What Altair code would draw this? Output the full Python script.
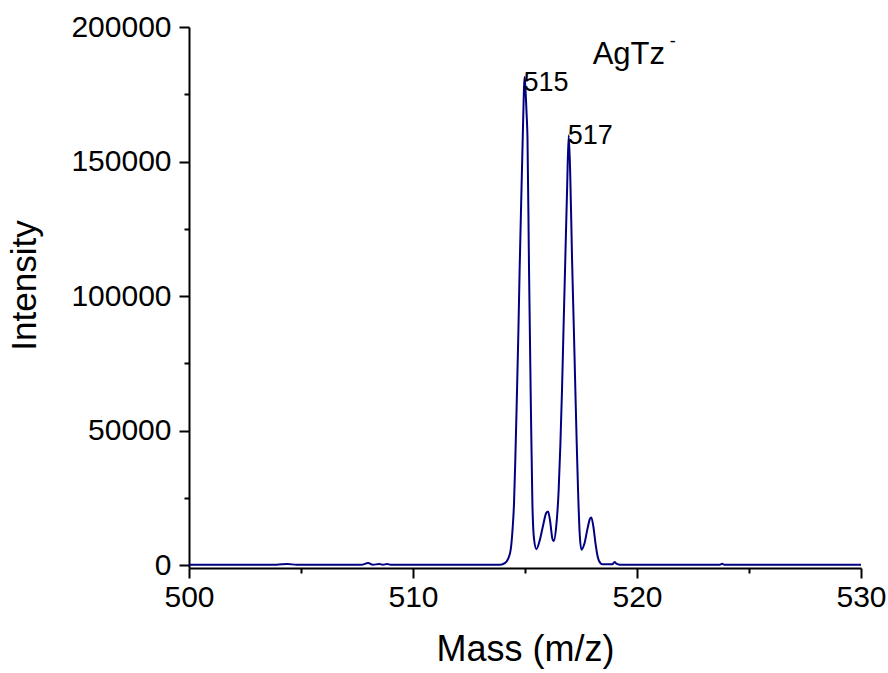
import altair as alt
import pandas as pd

# spectrum
mass = [500.0, 503.9, 504.4, 504.8, 507.7, 508.0, 508.2, 508.5, 508.65, 508.85, 509.0,
        513.9, 514.1, 514.25, 514.36, 514.45, 514.51, 514.57, 514.63, 514.70, 514.76,
        514.83, 514.90, 514.95, 514.98, 515.02, 515.07, 515.11, 515.18, 515.26, 515.33,
        515.40, 515.51, 515.65, 515.80, 515.95, 516.03, 516.12, 516.22, 516.28, 516.40,
        516.50, 516.58, 516.65, 516.72, 516.80, 516.88, 516.95, 517.02, 517.10, 517.18,
        517.25, 517.31, 517.37, 517.44, 517.52, 517.65, 517.80, 517.90, 517.96, 518.05,
        518.15, 518.25, 518.35, 518.45, 518.9, 519.0, 519.1, 519.25, 523.7, 523.8,
        523.9, 530.0]
intensity = [200, 200, 500, 200, 200, 900, 200, 500, 200, 500, 200,
             200, 800, 2500, 5700, 14000, 23100, 40000, 60200, 85000, 109700,
             135000, 159200, 176000, 181400, 177000, 168000, 159200, 109700, 60200, 23100,
             10000, 6000, 9000, 14500, 19500, 20000, 16500, 10000, 9000, 15000,
             27400, 45000, 64500, 88000, 114000, 140000, 159800, 145000, 114000, 88000,
             64500, 45000, 27400, 12000, 5800, 8000, 14000, 17300, 17800, 14500,
             8000, 3000, 1000, 400, 400, 1200, 500, 200, 200, 600,
             200, 200]

peak_labels = ["515", "517"]
peak_label_x = [514.98, 516.95]
peak_label_y = [176100, 156700]

species = "AgTz"
species_x = 518.02
species_y = 186100
charge = "-"
charge_x = 521.46
charge_y = 192500

x_major = [500, 510, 520, 530]
x_minor = [505, 515, 525]
y_major = [0, 50000, 100000, 150000, 200000]
y_minor = [25000, 75000, 125000, 175000]

df = pd.DataFrame({"mass": mass, "intensity": intensity})
lab = pd.DataFrame({"t": peak_labels, "x": peak_label_x, "y": peak_label_y})
sp = pd.DataFrame({"t": [species], "x": [species_x], "y": [species_y]})
ch = pd.DataFrame({"t": [charge], "x": [charge_x], "y": [charge_y]})

FONT = "Liberation Sans"
xs = alt.Scale(domain=[500, 530], nice=False, zero=False)
ys = alt.Scale(domain=[-1000, 200000], nice=False, zero=False)

xax = alt.Axis(values=x_major, tickSize=10, tickWidth=2, domainWidth=2, domainColor="black",
               tickColor="black", labelFont=FONT, labelFontSize=30, labelColor="black",
               labelPadding=4, grid=False, title="Mass (m/z)", titleFont=FONT,
               titleFontSize=36, titleFontWeight="normal", titleColor="black", titlePadding=20,
               labelFlush=False, format="d", orient="bottom")
yax = alt.Axis(values=y_major, tickSize=10, tickWidth=2, domainWidth=2, domainColor="black",
               tickColor="black", labelFont=FONT, labelFontSize=30, labelColor="black",
               labelPadding=8, grid=False, title="Intensity", titleFont=FONT,
               titleFontSize=35, titleFontWeight="normal", titleColor="black", titlePadding=28,
               titleY=258, labelFlush=False, format="d", orient="left")

line = alt.Chart(df).mark_line(color="#000080", strokeWidth=2, interpolate="monotone").encode(
    x=alt.X("mass:Q", scale=xs, axis=xax),
    y=alt.Y("intensity:Q", scale=ys, axis=yax),
)

xminax = alt.Axis(values=x_minor, tickSize=5, tickWidth=2, domain=False, labels=False,
                  title=None, grid=False, tickColor="black", orient="bottom")
yminax = alt.Axis(values=y_minor, tickSize=5, tickWidth=2, domain=False, labels=False,
                  title=None, grid=False, tickColor="black", orient="left")

minor = alt.Chart(df).mark_line(opacity=0).encode(
    x=alt.X("mass:Q", scale=xs, axis=xminax),
    y=alt.Y("intensity:Q", scale=ys, axis=yminax),
)

labels = alt.Chart(lab).mark_text(font=FONT, fontSize=27, align="left", baseline="alphabetic",
                                  color="black", dx=-1).encode(
    x=alt.X("x:Q", scale=xs, axis=None), y=alt.Y("y:Q", scale=ys, axis=None), text="t:N")
species_t = alt.Chart(sp).mark_text(font=FONT, fontSize=31, align="left", baseline="alphabetic",
                                    color="black").encode(
    x=alt.X("x:Q", scale=xs, axis=None), y=alt.Y("y:Q", scale=ys, axis=None), text="t:N")
charge_t = alt.Chart(ch).mark_text(font=FONT, fontSize=18, align="left", baseline="alphabetic",
                                   color="black").encode(
    x=alt.X("x:Q", scale=xs, axis=None), y=alt.Y("y:Q", scale=ys, axis=None), text="t:N")

chart = alt.layer(line, minor, labels, species_t, charge_t).resolve_axis(
    x="independent", y="independent"
).properties(
    width=672, height=541,
    background="white",
    autosize=alt.AutoSizeParams(type="none"),
    padding={"left": 189, "top": 27, "right": 27, "bottom": 105},
).configure_view(stroke=None)

chart.save("out.html", embed_options={"renderer": "svg", "actions": False})
